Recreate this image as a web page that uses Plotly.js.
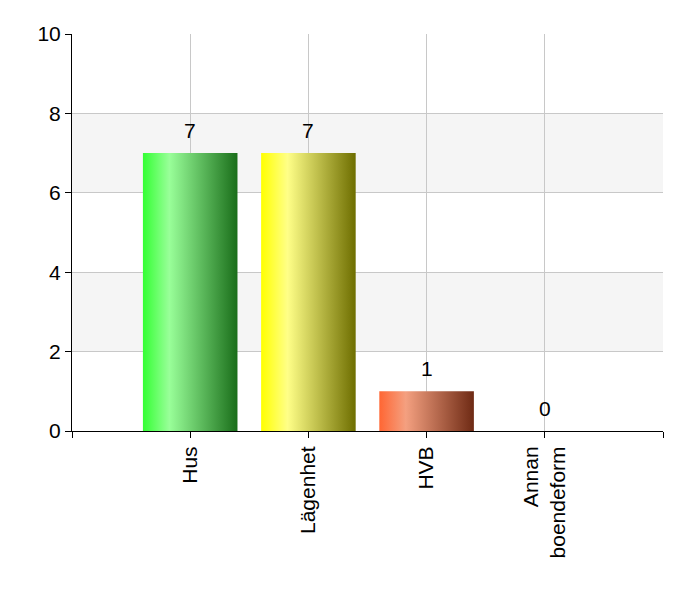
<!DOCTYPE html>
<html>
<head>
<meta charset="utf-8">
<script src="https://cdn.plot.ly/plotly-3.0.1.min.js"></script>
<style>
  body { margin: 0; background: #fff; }
  #plot { width: 700px; height: 600px; }
</style>
</head>
<body>
<div id="plot"></div>
<script>
// Chart data
const categories = ['Hus', 'Lägenhet', 'HVB', 'Annan<br>boendeform'];
const counts = [7, 7, 1, 0];
const yTicks = [0, 2, 4, 6, 8, 10];

// gradient per bar: left, highlight, right
const barColors = [
  ['#33ff33', '#99ff99', '#1a6e1a'],
  ['#ffff00', '#ffff88', '#6e6e00'],
  ['#ff6633', '#f4a080', '#6e2a14'],
  ['#cccccc', '#eeeeee', '#666666']
];

const barWidth = 0.8;
const font = 'Liberation Sans, Arial, sans-serif';

// build each bar as a filled polygon so it can carry a horizontal gradient
let traces = [];
categories.forEach(function (c, i) {
  const x = i + 1;
  const v = counts[i];
  if (v <= 0) return;
  const x0 = x - barWidth / 2, x1 = x + barWidth / 2;
  traces.push({
    x: [x0, x1, x1, x0, x0],
    y: [0, 0, v, v, 0],
    type: 'scatter',
    mode: 'lines',
    fill: 'toself',
    line: { width: 0 },
    fillgradient: {
      type: 'horizontal',
      colorscale: [[0, barColors[i][0]], [0.28, barColors[i][1]], [1, barColors[i][2]]]
    },
    hoverinfo: 'skip',
    showlegend: false
  });
});

// value labels above bars
const annos = counts.map(function (v, i) {
  return {
    x: i + 1, y: v, text: String(v),
    showarrow: false, yanchor: 'bottom', yshift: 9,
    font: { family: font, size: 21, color: '#000' }
  };
});

// alternating background bands
const shapes = [[2, 4], [6, 8]].map(function (b) {
  return {
    type: 'rect', xref: 'paper', x0: 0, x1: 1, yref: 'y', y0: b[0], y1: b[1],
    fillcolor: '#f5f5f5', line: { width: 0 }, layer: 'below'
  };
});

Plotly.newPlot('plot', traces, {
  width: 700, height: 600,
  margin: { l: 72, r: 37, t: 34, b: 169 },
  paper_bgcolor: '#fff',
  plot_bgcolor: '#fff',
  font: { family: font, size: 21, color: '#000' },
  showlegend: false,
  xaxis: {
    range: [0, 5],
    tickvals: [0, 1, 2, 3, 4, 5],
    ticktext: [''].concat(categories, ['']),
    tickangle: -90,
    tickfont: { family: font, size: 21, color: '#000' },
    ticks: 'outside', ticklen: 6, tickcolor: '#000',
    showline: true, linecolor: '#000', linewidth: 1,
    showgrid: true, gridcolor: '#c8c8c8', gridwidth: 1,
    zeroline: false, fixedrange: true
  },
  yaxis: {
    range: [0, 10],
    tickvals: yTicks,
    ticks: 'outside', ticklen: 6, tickcolor: '#000',
    showline: true, linecolor: '#000', linewidth: 1,
    showgrid: true, gridcolor: '#c8c8c8', gridwidth: 1,
    zeroline: false, fixedrange: true
  },
  shapes: shapes,
  annotations: annos
}, { staticPlot: true });
</script>
</body>
</html>
